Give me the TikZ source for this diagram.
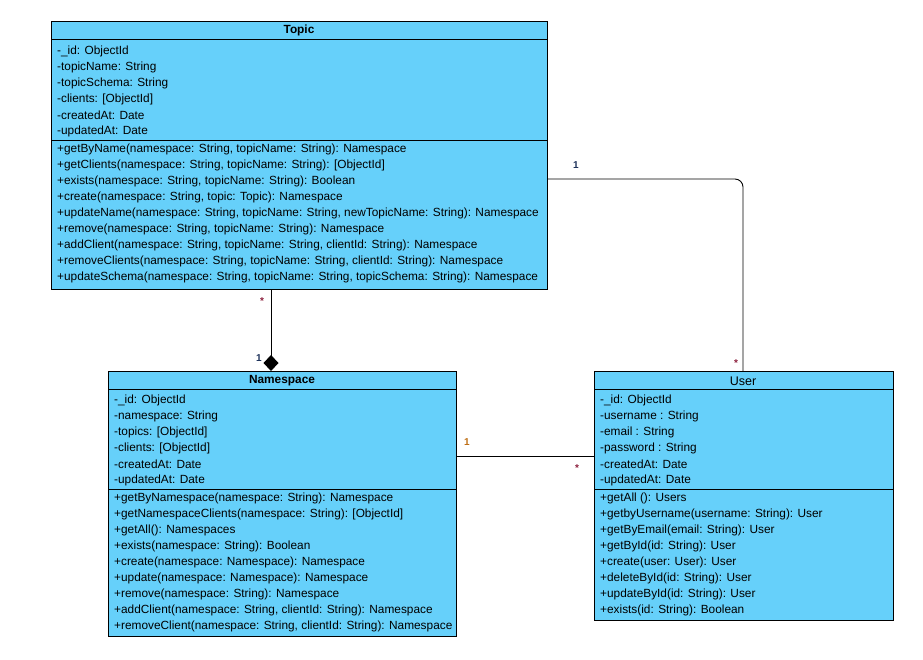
\documentclass[tikz,border=0pt]{standalone}
\usepackage{fontspec}
\setmainfont{Liberation Sans}
\usetikzlibrary{arrows.meta}
\definecolor{umlfill}{RGB}{102,208,250}
\definecolor{multone}{RGB}{30,50,90}
\definecolor{multstar}{RGB}{140,30,60}
\definecolor{multorange}{RGB}{190,110,20}
\tikzset{
  classbox/.style={draw=black, line width=0.9pt, fill=umlfill, anchor=north west, inner sep=0pt},
  rowtext/.style={anchor=west, inner sep=0pt, yshift=-1.2pt, font=\fontsize{11.85}{14}\selectfont},
  headtext/.style={anchor=center, inner sep=0pt, yshift=-0.8pt, font=\fontsize{11.85}{14}\selectfont\bfseries},
  headplain/.style={anchor=center, inner sep=0pt, yshift=-0.8pt, font=\fontsize{12.5}{14}\selectfont},
  multlabel/.style={inner sep=0pt, font=\fontsize{10}{12}\selectfont\bfseries},
  conn/.style={draw=black, line width=0.9pt}
}
\begin{document}
\begin{tikzpicture}[x=1pt,y=-1pt]
\useasboundingbox (0,0) rectangle (923,659);
% ---------- Topic ----------
\node[classbox, minimum width=496pt, minimum height=268pt] (topic) at (51,21) {};
\draw[line width=0.9pt] (51,39) -- (547,39);
\draw[line width=0.9pt] (51,140) -- (547,140);
\node[headtext] (topicH) at (299,30) {Topic};
\node[rowtext] (t1) at (57,50) {-\_id: ObjectId};
\node[rowtext] (t2) at (57,66) {-topicName: String};
\node[rowtext] (t3) at (57,82) {-topicSchema: String};
\node[rowtext] (t4) at (57,98) {-clients: [ObjectId]};
\node[rowtext] (t5) at (57,114) {-createdAt: Date};
\node[rowtext] (t6) at (57,130) {-updatedAt: Date};
\node[rowtext] (tm1) at (57,148) {+getByName(namespace: String, topicName: String): Namespace};
\node[rowtext] (tm2) at (57,164) {+getClients(namespace: String, topicName: String): [ObjectId]};
\node[rowtext] (tm3) at (57,180) {+exists(namespace: String, topicName: String): Boolean};
\node[rowtext] (tm4) at (57,196) {+create(namespace: String, topic: Topic): Namespace};
\node[rowtext] (tm5) at (57,212) {+updateName(namespace: String, topicName: String, newTopicName: String): Namespace};
\node[rowtext] (tm6) at (57,228) {+remove(namespace: String, topicName: String): Namespace};
\node[rowtext] (tm7) at (57,244) {+addClient(namespace: String, topicName: String, clientId: String): Namespace};
\node[rowtext] (tm8) at (57,260) {+removeClients(namespace: String, topicName: String, clientId: String): Namespace};
\node[rowtext] (tm9) at (57,276) {+updateSchema(namespace: String, topicName: String, topicSchema: String): Namespace};
% ---------- Namespace ----------
\node[classbox, minimum width=348pt, minimum height=265pt] (ns) at (108,371) {};
\draw[line width=0.9pt] (108,389) -- (456,389);
\draw[line width=0.9pt] (108,489) -- (456,489);
\node[headtext] (nsH) at (282,380) {Namespace};
\node[rowtext] (n1) at (114,399) {-\_id: ObjectId};
\node[rowtext] (n2) at (114,415) {-namespace: String};
\node[rowtext] (n3) at (114,431) {-topics: [ObjectId]};
\node[rowtext] (n4) at (114,447) {-clients: [ObjectId]};
\node[rowtext] (n5) at (114,463) {-createdAt: Date};
\node[rowtext] (n6) at (114,479) {-updatedAt: Date};
\node[rowtext] (nm1) at (114,497) {+getByNamespace(namespace: String): Namespace};
\node[rowtext] (nm2) at (114,513) {+getNamespaceClients(namespace: String): [ObjectId]};
\node[rowtext] (nm3) at (114,529) {+getAll(): Namespaces};
\node[rowtext] (nm4) at (114,545) {+exists(namespace: String): Boolean};
\node[rowtext] (nm5) at (114,561) {+create(namespace: Namespace): Namespace};
\node[rowtext] (nm6) at (114,577) {+update(namespace: Namespace): Namespace};
\node[rowtext] (nm7) at (114,593) {+remove(namespace: String): Namespace};
\node[rowtext] (nm8) at (114,609) {+addClient(namespace: String, clientId: String): Namespace};
\node[rowtext] (nm9) at (114,625) {+removeClient(namespace: String, clientId: String): Namespace};
% ---------- User ----------
\node[classbox, minimum width=299pt, minimum height=249pt] (user) at (594,371) {};
\draw[line width=0.9pt] (594,389) -- (893,389);
\draw[line width=0.9pt] (594,489) -- (893,489);
\node[headplain] (userH) at (743,380) {User};
\node[rowtext] (u1) at (600,399) {-\_id: ObjectId};
\node[rowtext] (u2) at (600,415) {-username : String};
\node[rowtext] (u3) at (600,431) {-email : String};
\node[rowtext] (u4) at (600,447) {-password : String};
\node[rowtext] (u5) at (600,463) {-createdAt: Date};
\node[rowtext] (u6) at (600,479) {-updatedAt: Date};
\node[rowtext] (um1) at (600,497) {+getAll (): Users};
\node[rowtext] (um2) at (600,513) {+getbyUsername(username: String): User};
\node[rowtext] (um3) at (600,529) {+getByEmail(email: String): User};
\node[rowtext] (um4) at (600,545) {+getById(id: String): User};
\node[rowtext] (um5) at (600,561) {+create(user: User): User};
\node[rowtext] (um6) at (600,577) {+deleteById(id: String): User};
\node[rowtext] (um7) at (600,593) {+updateById(id: String): User};
\node[rowtext] (um8) at (600,609) {+exists(id: String): Boolean};
% ---------- Connectors ----------
\coordinate (tu) at (743,179);
\draw[conn, rounded corners=8pt] (topic.east |- tu) -- (tu) -- (tu |- user.north);
\coordinate (tn) at (271,0);
\draw[conn, -{Diamond[length=16pt,width=15pt,fill=black]}] (tn |- topic.south) -- (tn |- ns.north);
\coordinate (nu) at (0,456);
\draw[conn] (nu -| ns.east) -- (nu -| user.west);
% ---------- Multiplicities ----------
\node[multlabel, text=multone] (m1) at (576,165) {1};
\node[multlabel, text=multstar] (m2) at (736,363) {*};
\node[multlabel, text=multstar] (m3) at (262,301) {*};
\node[multlabel, text=multone] (m4) at (259,358) {1};
\node[multlabel, text=multorange] (m5) at (467,442) {1};
\node[multlabel, text=multstar] (m6) at (577,468) {*};
\end{tikzpicture}
\end{document}
